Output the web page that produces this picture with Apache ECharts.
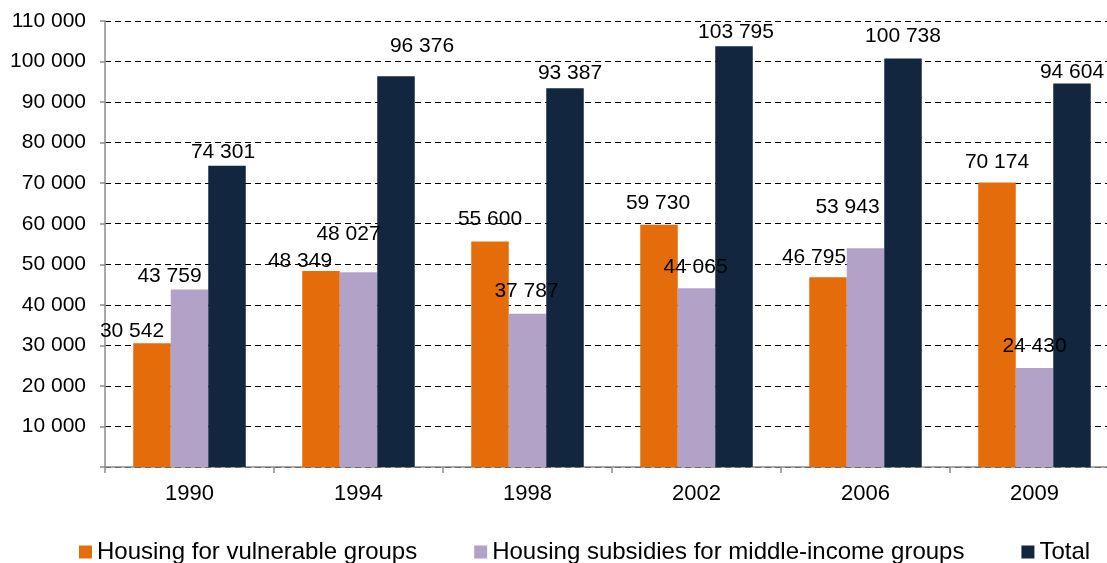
<!DOCTYPE html>
<html>
<head>
<meta charset="utf-8">
<script src="https://cdn.jsdelivr.net/npm/echarts@6/dist/echarts.min.js"></script>
<style>
  * { margin: 0; padding: 0; }
  body { background: #fff; }
</style>
</head>
<body>
<!-- chart container -->
<div id="main" style="width:1107px;height:563px;background:white;"></div>
<script>
var years = ["1990", "1994", "1998", "2002", "2006", "2009"];
var vulnerable = [30542, 48349, 55600, 59730, 46795, 70174];
var middleIncome = [43759, 48027, 37787, 44065, 53943, 24430];
var total = [74301, 96376, 93387, 103795, 100738, 94604];
var seriesNames = ["Housing for vulnerable groups", "Housing subsidies for middle-income groups", "Total"];

// label nudges (px) so the value labels sit where the original put them
var nudgeVuln = [[-20, 2], [-21, 4], [0, -9], [-1, -8], [-14, -7], [0, -7]];
var nudgeMid = [[-20, 0], [-10, -25], [-1, -9], [-1, -8], [-18, -28], [0, -8]];
var nudgeTotal = [[-4, 0], [26, -17], [5, -2], [2, 0], [0, -9], [0, 2]];

var FONT = '"Liberation Sans", Arial, sans-serif';

function fmt(v) {
  return String(v).replace(/\B(?=(\d{3})+(?!\d))/g, " ");
}

function makeSeries(name, values, nudges, color) {
  return {
    name: name,
    type: "bar",
    barWidth: 37.5,
    barGap: "0%",
    itemStyle: { color: color },
    data: values.map(function (v, i) {
      return { value: v, label: { offset: nudges[i] } };
    }),
    label: {
      show: true,
      position: "top",
      distance: 3,
      color: "#000",
      fontSize: 21,
      fontFamily: FONT,
      formatter: function (p) { return fmt(p.value); }
    }
  };
}

var chart = echarts.init(document.getElementById("main"));
chart.setOption({
  animation: false,
  textStyle: { fontFamily: FONT },
  legend: {
    left: 79,
    top: 540,
    padding: 0,
    itemWidth: 13,
    itemHeight: 13,
    itemGap: 57,
    icon: "rect",
    textStyle: { color: "#000", fontSize: 24, fontFamily: FONT },
    data: seriesNames
  },
  grid: {
    left: 105,
    width: 1014,
    top: 21,
    height: 446,
    containLabel: false,
    outerBoundsMode: "none"
  },
  xAxis: {
    type: "category",
    data: years,
    axisLine: { lineStyle: { color: "#8c8c8c", width: 1.5 } },
    axisTick: { show: true, length: 6, lineStyle: { color: "#8c8c8c", width: 1.5 } },
    axisLabel: { color: "#000", fontSize: 22, fontFamily: FONT, margin: 16 }
  },
  yAxis: {
    type: "value",
    min: 0,
    max: 110000,
    interval: 10000,
    axisLine: { show: true, lineStyle: { color: "#8c8c8c", width: 1.5 } },
    axisTick: { show: true, length: 5, lineStyle: { color: "#8c8c8c", width: 1.5 } },
    axisLabel: {
      color: "#000",
      fontSize: 21,
      fontFamily: FONT,
      margin: 19,
      formatter: function (v) { return v === 0 ? "" : fmt(v); }
    },
    splitLine: { lineStyle: { color: "#000", type: [6, 4], width: 1 } }
  },
  series: [
    makeSeries(seriesNames[0], vulnerable, nudgeVuln, "#e46c0a"),
    makeSeries(seriesNames[1], middleIncome, nudgeMid, "#b3a2c7"),
    makeSeries(seriesNames[2], total, nudgeTotal, "#12263f")
  ]
});
</script>
</body>
</html>
